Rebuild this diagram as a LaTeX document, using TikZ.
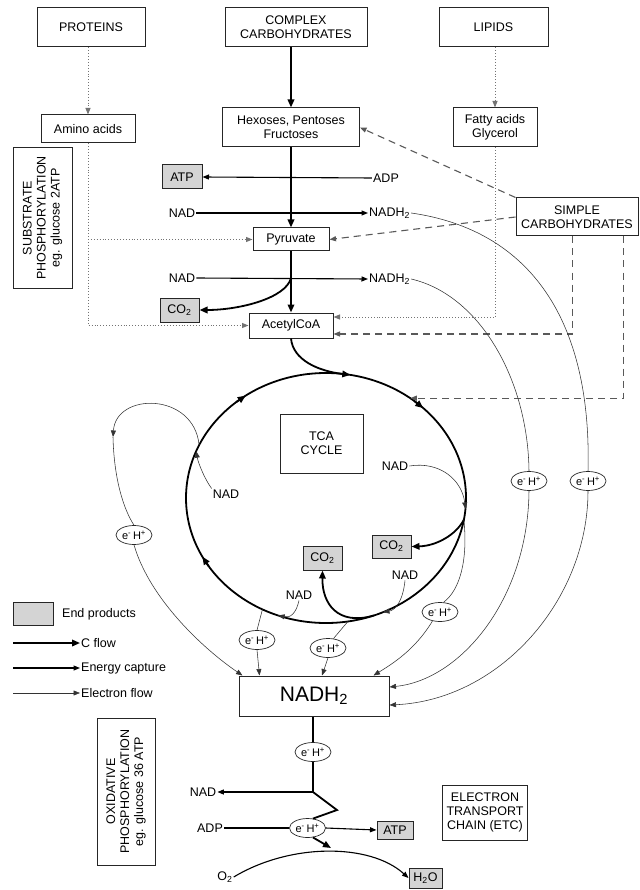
\documentclass[tikz,border=0pt]{standalone}
\usepackage{fontspec}
\setmainfont{Liberation Sans}
\usetikzlibrary{arrows.meta,shapes.geometric,calc}
\newcommand\mfs{\fontsize{12.5}{14}\selectfont}
\newcommand\ehtxt{e\textsuperscript{-}\,H\textsuperscript{+}}
\begin{document}
\begin{tikzpicture}[x=1pt,y=-1pt,
  every node/.style={font=\mfs, inner sep=1pt},
  box/.style={draw=black!85, line width=1pt, align=center, inner sep=2pt},
  endp/.style={box, fill=black!17},
  myarrow/.style={-{Triangle[length=6.5pt,width=5pt]}},
  bigarrow/.style={-{Triangle[length=8pt,width=6.5pt]}},
  cflow/.style={line width=1.8pt, bigarrow},
  cline/.style={line width=1.8pt},
  ecap/.style={line width=1.1pt, myarrow},
  eline/.style={line width=1.1pt},
  eflow/.style={line width=0.55pt, draw=black!80, myarrow},
  eplain/.style={line width=0.55pt, draw=black!80},
  dotl/.style={line width=0.9pt, draw=black!55, dotted, myarrow},
  dashl/.style={line width=1.1pt, draw=black!65, dash pattern=on 7pt off 5pt, myarrow},
  eh/.style={ellipse, draw=black!85, line width=0.7pt, minimum width=36pt, minimum height=19pt, inner sep=0pt, font=\fontsize{11}{12}\selectfont},
]
\useasboundingbox (0,0) rectangle (639,890);

% ---------- top boxes ----------
\node[box, minimum width=108, minimum height=39] (prot) at (91,27.5) {PROTEINS};
\node[box, minimum width=142, minimum height=39] (cc) at (296,27.5) {COMPLEX\\CARBOHYDRATES};
\node[box, minimum width=109, minimum height=39] (lip) at (493.5,27.5) {LIPIDS};
\node[box, minimum width=94, minimum height=28] (amino) at (88,129) {Amino acids};
\node[box, minimum width=137, minimum height=39] (hex) at (291,127.5) {Hexoses, Pentoses\\Fructoses};
\node[box, minimum width=84, minimum height=39] (fat) at (495,127.5) {Fatty acids\\Glycerol};
\node[endp, minimum width=40, minimum height=24] (atpa) at (182,177) {ATP};
\node (adpa) at (386,178) {ADP};
\node (nada) at (182,213) {NAD};
\node[anchor=west] (nadha) at (368,213) {NADH\textsubscript{2}};
\node[box, minimum width=76, minimum height=23] (pyr) at (291,239.5) {Pyruvate};
\node (nadb) at (182,278) {NAD};
\node[anchor=west] (nadhb) at (368,279) {NADH\textsubscript{2}};
\node[endp, minimum width=39, minimum height=24] (co2a) at (179.5,310) {CO\textsubscript{2}};
\node[box, minimum width=84, minimum height=25] (acoa) at (291,325.5) {AcetylCoA};
\node[box, minimum width=122, minimum height=38] (sc) at (577,217) {SIMPLE\\CARBOHYDRATES};
\node[box, rotate=90, minimum width=140, minimum height=59] (sub) at (42.5,218) {SUBSTRATE\\PHOSPHORYLATION\\eg. glucose 2ATP};

% ---------- top connectors ----------
\draw[dotl] (prot.south -| amino.north) -- (amino.north);
\draw[dotl] (lip.south -| fat.north) -- (fat.north);
\draw[cflow] (cc.south -| hex.north) -- (hex.north);
\draw[cflow] (hex.south) -- (pyr.north);
\draw[cflow] (pyr.south) -- (acoa.north);
\draw[ecap] (adpa.west) -- (atpa.east);
\draw[ecap] (nada.east) -- (nadha.west);
\draw[ecap] (nadb.east) -- (nadhb.west);
\coordinate (j2) at (pyr.south |- nadb);
\draw[cflow] (j2) .. controls (286,298) and (240,310) .. (co2a.east);
\draw[dotl] (amino.south) |- (acoa.west);
\coordinate (abr) at (amino.south |- pyr.west);
\draw[dotl] (abr) -- (pyr.west);
\draw[dotl] (fat.south) |- ($(acoa.east)+(0,-8.5)$);
\draw[dashl] (sc.north west) -- (hex.east);
\draw[dashl] (sc.west) -- (pyr.east);
\draw[dashl] ($(sc.south west)+(57,0)$) |- ($(acoa.east)+(0,8.5)$);

% ---------- TCA cycle ----------
\coordinate (c5)   at ({326+140*cos(5)},{498+125*sin(5)});
\coordinate (c10)  at ({326+140*cos(10)},{498+125*sin(10)});
\coordinate (c66)  at ({326+140*cos(66)},{498+125*sin(66)});
\coordinate (c70)  at ({326+140*cos(70)},{498+125*sin(70)});
\coordinate (c81)  at ({326+140*cos(81)},{498+125*sin(81)});
\coordinate (c110) at ({326+140*cos(110)},{498+125*sin(110)});
\coordinate (c117) at ({326+140*cos(117)},{498+125*sin(117)});
\coordinate (c147) at ({326+140*cos(147)},{498+125*sin(147)});
\coordinate (c152) at ({326+140*cos(152)},{498+125*sin(152)});
\coordinate (c202) at ({326+140*cos(202)},{498+125*sin(202)});
\coordinate (c205) at ({326+140*cos(205)},{498+125*sin(205)});
\coordinate (c230) at ({326+140*cos(230)},{498+125*sin(230)});
\coordinate (c235) at ({326+140*cos(235)},{498+125*sin(235)});
\coordinate (c280) at ({326+140*cos(280)},{498+125*sin(280)});
\coordinate (c307) at ({326+140*cos(307)},{498+125*sin(307)});
\coordinate (c309) at ({326+140*cos(309)},{498+125*sin(309)});
\coordinate (c314) at ({326+140*cos(314)},{498+125*sin(314)});
\coordinate (ctr) at (326,498);
\draw[cline] (ctr) ellipse [x radius=140pt, y radius=125pt];
\draw[cflow] (c147) -- (c152);
\draw[cflow] (c230) -- (c235);
\draw[cflow] (c309) -- (c314);
\draw[cflow] (acoa.south) .. controls (293,360) and (318,371) .. (c280);
\draw[dashl] ($(sc.south east)+(-15,0)$) |- (c307);
\node[box, minimum width=83, minimum height=59] (tca) at (321.5,443.5) {TCA\\CYCLE};
\node[endp, minimum width=39, minimum height=23] (co2b) at (391.5,546.5) {CO\textsubscript{2}};
\node[endp, minimum width=39, minimum height=24] (co2c) at (322.5,558) {CO\textsubscript{2}};
\node (nad3) at (226,494) {NAD};
\node (nad4) at (395,466) {NAD};
\node (nad5) at (405,575) {NAD};
\node (nad6) at (299,595) {NAD};
\draw[cflow] (c10) .. controls (456,535) and (436,546) .. (co2b.east);
\draw[cflow] (c70) .. controls (338,626) and (322,604) .. (co2c.south);

% ---------- electron carriers ----------
\node[eh] (eh1) at (134,535) {\ehtxt};
\node[eh] (eh2) at (529,481) {\ehtxt};
\node[eh] (eh3) at (588,481) {\ehtxt};
\node[eh] (eh4) at (440,612) {\ehtxt};
\node[eh] (eh5) at (257,640) {\ehtxt};
\node[eh] (eh6) at (328,648) {\ehtxt};
\node[box, minimum width=150, minimum height=40, font=\fontsize{21}{24}\selectfont] (nadh) at (314,696) {NADH\textsubscript{2}};

\draw[eflow] (nad3.north west) .. controls (204,478) and (198,462) .. (c202);
\coordinate (lp) at (113,437);
\draw[eflow] (c205) .. controls (194,392) and (116,392) .. (lp);
\draw[eplain] (lp) .. controls (114,480) and (124,510) .. (eh1.north);
\draw[eflow] (eh1.south) .. controls (150,600) and (205,650) .. ($(nadh.north west)+(4,0)$);

\draw[eflow] (nad4.east) .. controls (440,461) and (462,480) .. (c5);
\draw[eplain] (c10) .. controls (468,560) and (460,590) .. (eh4.70);
\draw[eflow] (eh4.230) .. controls (415,650) and (392,664) .. ($(nadh.north east)+(-16,0)$);

\draw[eflow] (nad5.south) .. controls (403,600) and (396,610) .. (c66);
\draw[eplain] (c81) -- (eh6.60);
\draw[eflow] (eh6.south) -- ($(nadh.north)+(8,0)$);

\draw[eflow] (nad6.south) .. controls (296,614) and (290,618) .. (c110);
\draw[eplain] (c117) -- (eh5.north);
\draw[eflow] (eh5.south) -- ($(nadh.north west)+(21,0)$);

\draw[eplain] (nadha.east) .. controls (530,230) and (592,320) .. (eh3.north);
\draw[eflow] (eh3.south) .. controls (588,600) and (500,700) .. ($(nadh.east)+(0,9)$);
\draw[eplain] (nadhb.east) .. controls (480,295) and (528,380) .. (eh2.north);
\draw[eflow] (eh2.south) .. controls (528,600) and (460,680) .. ($(nadh.east)+(0,-9)$);

% ---------- legend ----------
\node[endp, minimum width=40, minimum height=23] (lgb) at (33,613.5) {};
\node[anchor=west] (lgt) at (61,614) {End products};
\coordinate (l1a) at (13,643); \coordinate (l1b) at (80,643);
\coordinate (l2a) at (13,668); \coordinate (l2b) at (80,668);
\coordinate (l3a) at (13,693); \coordinate (l3b) at (80,693);
\draw[cflow] (l1a) -- (l1b);
\draw[ecap] (l2a) -- (l2b);
\draw[eflow] (l3a) -- (l3b);
\node[anchor=west] (lg1) at (l1b) {C flow};
\node[anchor=west] (lg2) at (l2b) {Energy capture};
\node[anchor=west] (lg3) at (l3b) {Electron flow};

% ---------- ETC ----------
\node[box, rotate=90, minimum width=147, minimum height=58] (oxp) at (126,791.5) {OXIDATIVE\\PHOSPHORYLATION\\eg. glucose 36 ATP};
\node[box, minimum width=85, minimum height=55] (etc) at (485,812.5) {ELECTRON\\TRANSPORT\\CHAIN (ETC)};
\node[eh] (eh7) at (313,752) {\ehtxt};
\node[eh] (eh8) at (307.5,828) {\ehtxt};
\coordinate (j1) at (313,792);
\coordinate (z1) at (337,810);
\node (nadc) at (203,792) {NAD};
\node (adpb) at (210,828) {ADP};
\node[endp, minimum width=36, minimum height=18] (atpb) at (395,830) {ATP};
\node (o2) at (225,877) {O\textsubscript{2}};
\node[endp, minimum width=33, minimum height=20] (h2o) at (425.5,878) {H\textsubscript{2}O};
\coordinate (ot) at (331,848);
\draw[eline] (nadh.south -| eh7.north) -- (eh7.north);
\draw[eline] (eh7.south) -- (j1);
\draw[ecap] (j1) -- (nadc.east);
\draw[cline] (j1) -- (z1) -- (eh8.60);
\draw[eline] (adpb.east) -- (eh8.west);
\draw[ecap] (eh8.east) -- (atpb.west);
\draw[cflow] (eh8.-60) -- (ot);
\draw[ecap] (o2.east) .. controls (290,843) and (370,843) .. (h2o.west);
\end{tikzpicture}
\end{document}
